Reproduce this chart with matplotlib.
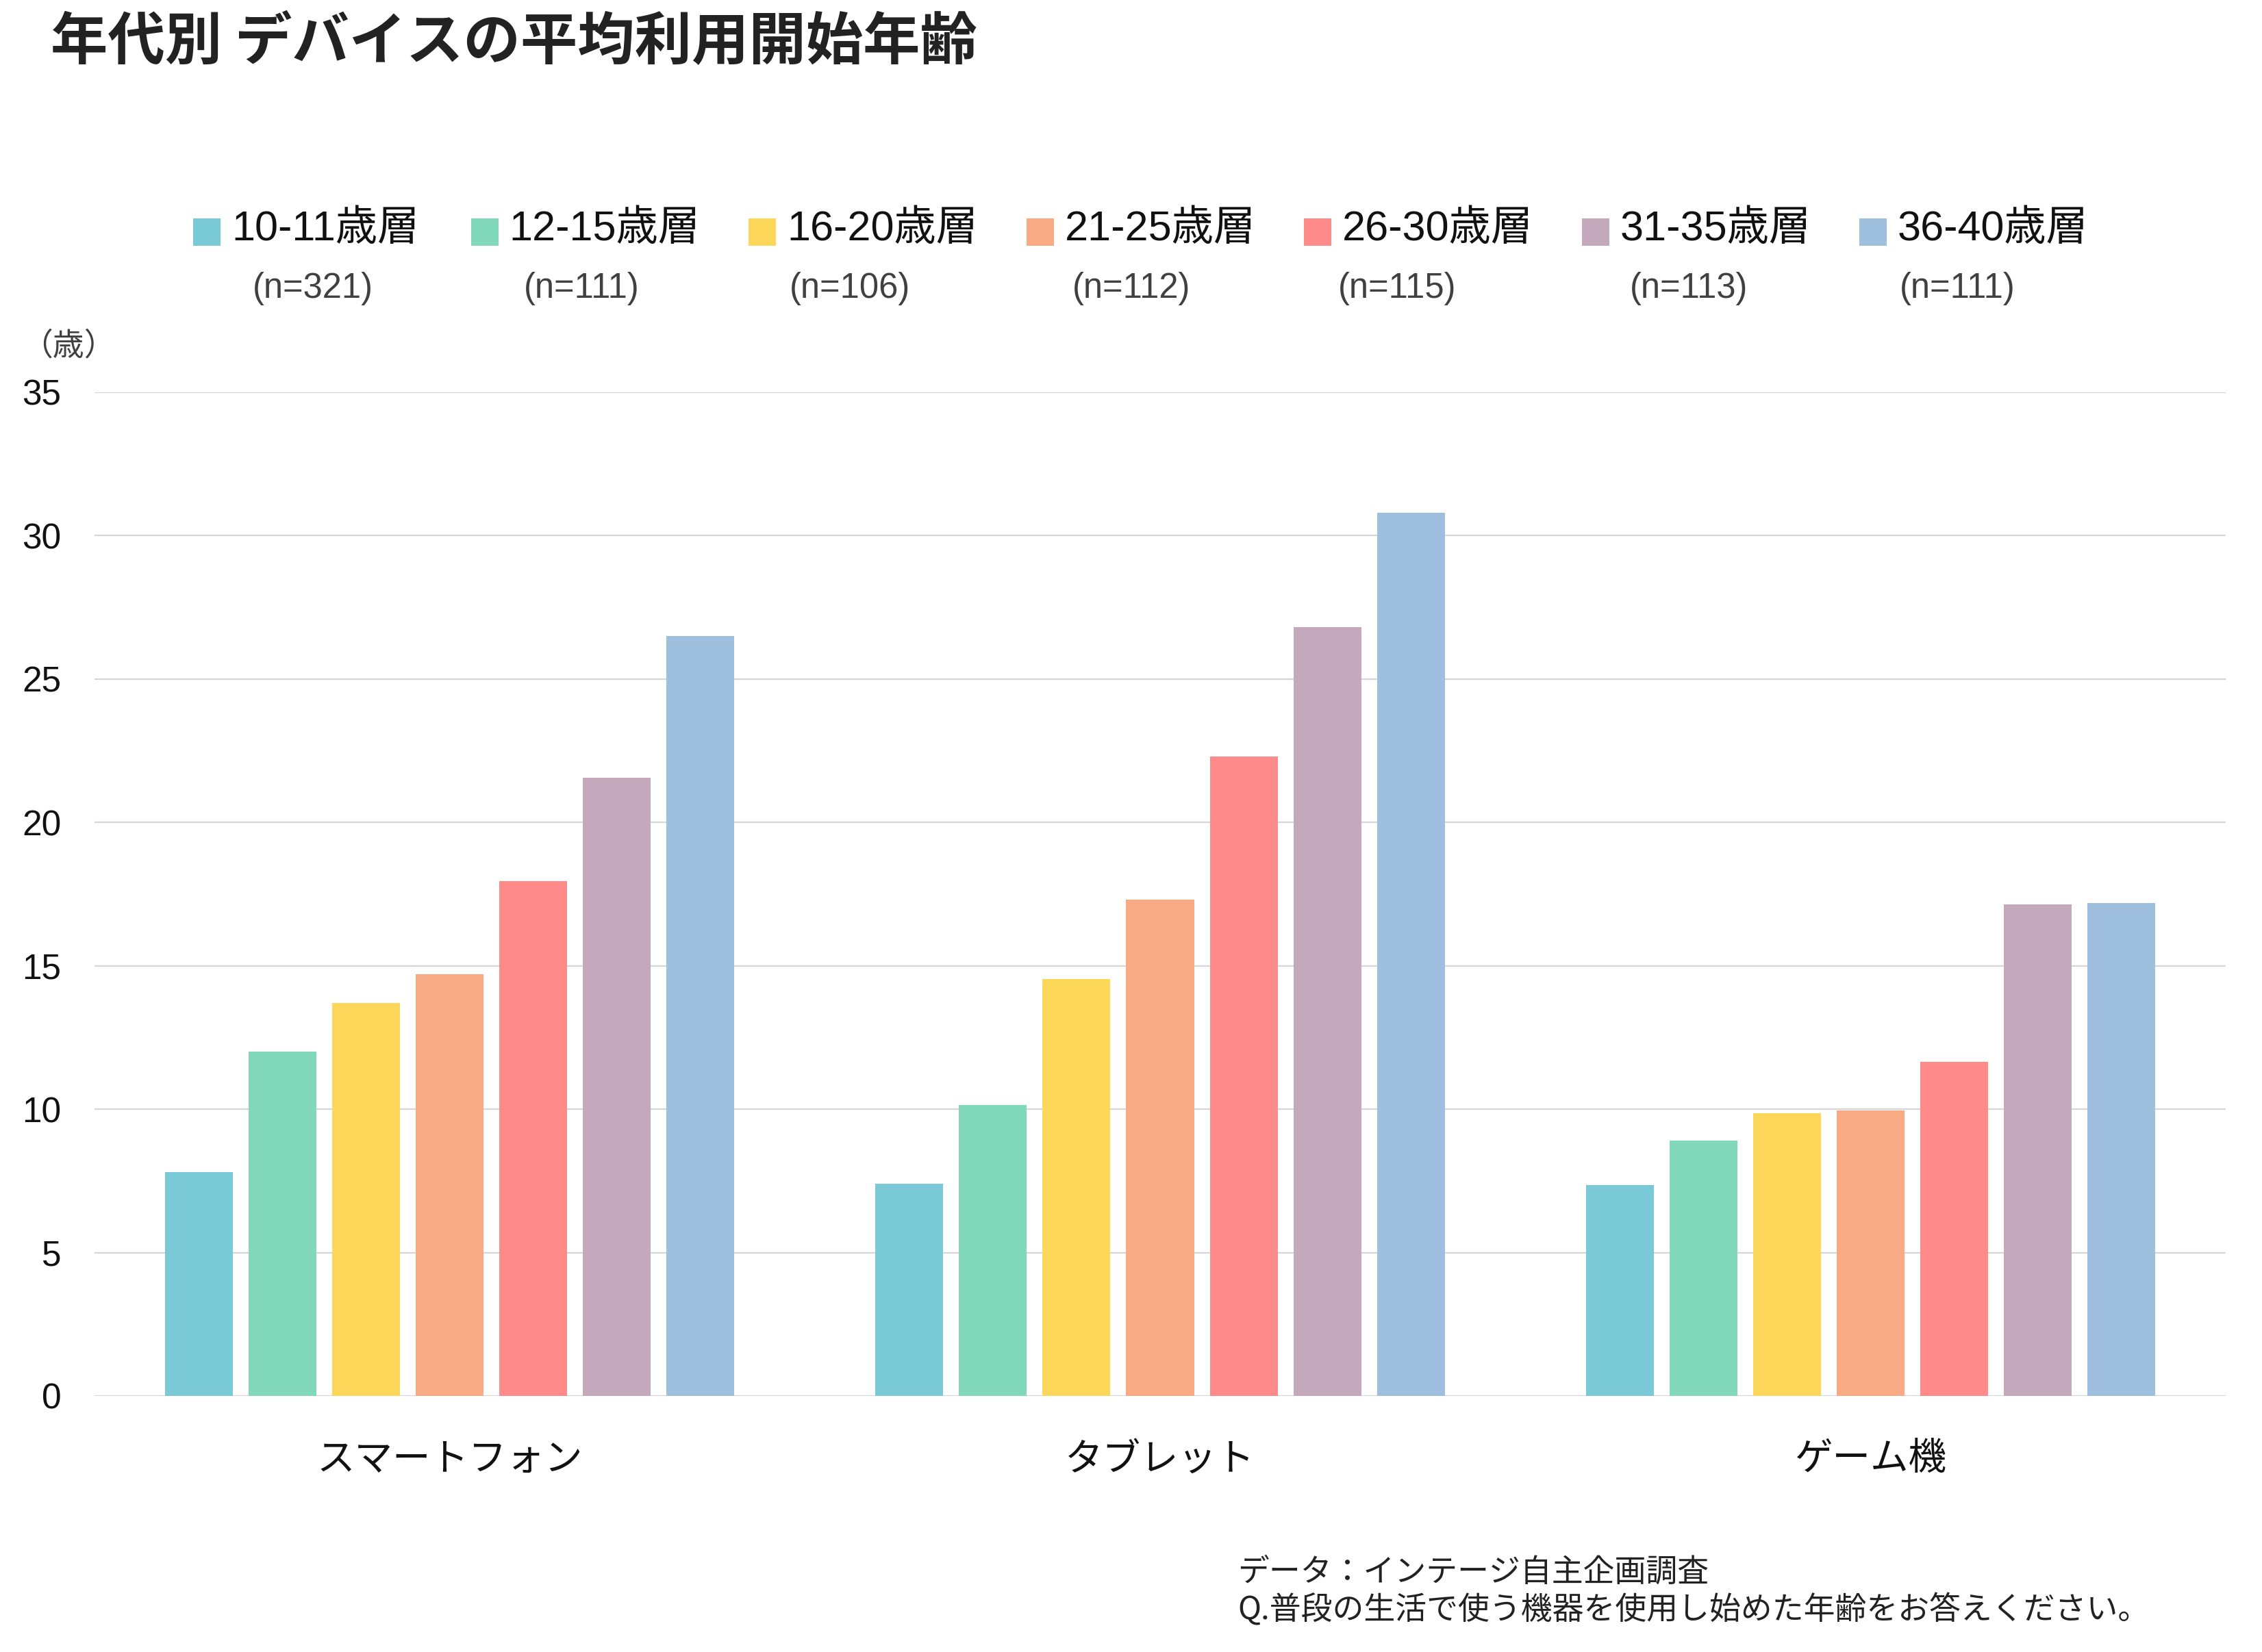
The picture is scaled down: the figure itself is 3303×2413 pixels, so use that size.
import matplotlib
matplotlib.use("Agg")
import matplotlib.pyplot as plt
from matplotlib.patches import Rectangle

# ---------------- data ----------------
categories = ["スマートフォン", "タブレット", "ゲーム機"]
series_labels = ["10-11歳層", "12-15歳層", "16-20歳層", "21-25歳層",
                 "26-30歳層", "31-35歳層", "36-40歳層"]
sample_sizes = ["(n=321)", "(n=111)", "(n=106)", "(n=112)",
                "(n=115)", "(n=113)", "(n=111)"]
age_1011 = [7.8, 7.4, 7.35]
age_1215 = [12.0, 10.15, 8.9]
age_1620 = [13.7, 14.55, 9.85]
age_2125 = [14.7, 17.3, 9.95]
age_2630 = [17.95, 22.3, 11.65]
age_3135 = [21.55, 26.8, 17.15]
age_3640 = [26.5, 30.8, 17.2]
series_values = [age_1011, age_1215, age_1620, age_2125, age_2630, age_3135, age_3640]
y_ticks = [0, 5, 10, 15, 20, 25, 30, 35]

title = "年代別 デバイスの平均利用開始年齢"
y_unit = "（歳）"
note_lines = ["データ：インテージ自主企画調査",
              "Q.普段の生活で使う機器を使用し始めた年齢をお答えください。"]

# ---------------- style ----------------
colors = ["#79C9D7", "#81D8BA", "#FDD75A", "#F8AA84", "#FF8A8A", "#C4A9BD", "#9EBFDD"]
LAT = ["Liberation Sans", "Noto Sans CJK JP", "DejaVu Sans"]
CJK = ["Noto Sans CJK JP", "DejaVu Sans"]
plt.rcParams["font.family"] = LAT

W, H = 3303, 2413
DPI = 100
fig = plt.figure(figsize=(W / DPI, H / DPI), dpi=DPI)
fig.patch.set_facecolor("white")

def fx(px):
    return px / W

def fy(py):
    return 1 - py / H

ax_left, ax_right, ax_top, ax_bottom = 138, 3250, 573, 2039
ax = fig.add_axes([fx(ax_left), fy(ax_bottom), fx(ax_right - ax_left), (ax_bottom - ax_top) / H])

step = 0.1177
width = 0.0955
n = len(series_values)
for i, (vals, col) in enumerate(zip(series_values, colors)):
    xs = [c + (i - (n - 1) / 2) * step for c in range(len(categories))]
    ax.bar(xs, vals, width=width, color=col, zorder=2, linewidth=0)

ax.set_xlim(-0.5, len(categories) - 0.5)
ax.set_ylim(0, 35)
ax.set_yticks(y_ticks)
ax.set_yticklabels([str(t) for t in y_ticks], fontsize=37, color="#111111")
ax.set_xticks(range(len(categories)))
ax.set_xticklabels(categories, fontsize=40, color="#111111", family=CJK)
ax.tick_params(axis="y", length=0, pad=35)
ax.tick_params(axis="x", length=0, pad=46)
ax.grid(axis="y", color="#d6d6d6", linewidth=1.6, zorder=0)
ax.set_axisbelow(True)
for s in ax.spines.values():
    s.set_visible(False)

# title
fig.text(fx(74), fy(63), title, fontsize=60, fontweight="bold", color="#222222",
         family=CJK, ha="left", va="center")

# legend (manual)
leg_x0, leg_step, leg_y = 282, 405.5, 339
sq = 40
n_label_x = [457, 849, 1241, 1652, 2040, 2466, 2858]
for i, (lab, col, nn) in enumerate(zip(series_labels, colors, sample_sizes)):
    x = leg_x0 + i * leg_step
    fig.patches.append(Rectangle((fx(x), fy(leg_y + sq / 2)), sq / W, sq / H,
                                 transform=fig.transFigure, facecolor=col,
                                 edgecolor="none"))
    fig.text(fx(x + sq + 16), fy(leg_y - 3), lab, fontsize=44, color="#111111",
             ha="left", va="center")
    fig.text(fx(n_label_x[i]), fy(421), nn, fontsize=36.5, color="#404040",
             ha="center", va="center")

# unit label
fig.text(fx(100), fy(505), y_unit, fontsize=33, color="#404040", family=CJK,
         ha="center", va="center")

# notes
fig.text(fx(1807), fy(2296), note_lines[0], fontsize=33, color="#222222",
         family=CJK, ha="left", va="center")
fig.text(fx(1807), fy(2352), note_lines[1], fontsize=33, color="#222222",
         family=CJK, ha="left", va="center")

fig.savefig("out.png", dpi=DPI, facecolor="white")
